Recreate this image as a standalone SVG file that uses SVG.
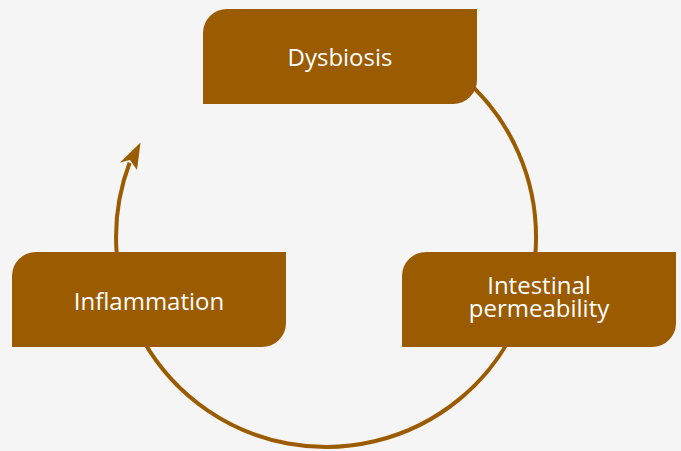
<svg xmlns="http://www.w3.org/2000/svg" width="681" height="451" viewBox="0 0 681 451">
<style>
.box{fill:#9b5b00}
.lbl{font-family:"Open Sans","Noto Sans","Liberation Sans",sans-serif;font-size:24px;fill:#ffffff;text-anchor:middle}
.conn{fill:none;stroke:#9b5b00;stroke-width:4}
.head{fill:#9b5b00}
</style>
<rect x="0" y="0" width="681" height="451" fill="#f5f5f5"/>
<g id="connectors">
<path class="conn" d="M 289.5 30.2 A 210 210 0 1 1 129.6 162.8"/>
<polygon class="head" points="140.5,142.5 120,162.5 130,160 137,170"/>
</g>
<g id="dysbiosis">
<path class="box" d="M 227 9 H 477 V 80 A 24 24 0 0 1 453 104 H 203 V 33 A 24 24 0 0 1 227 9 Z"/>
<text class="lbl" x="340" y="66">Dysbiosis</text>
</g>
<g id="intestinal-permeability">
<path class="box" d="M 426 252 H 676 V 323 A 24 24 0 0 1 652 347 H 402 V 276 A 24 24 0 0 1 426 252 Z"/>
<text class="lbl" x="539" y="294">Intestinal<tspan x="539" dy="23">permeability</tspan></text>
</g>
<g id="inflammation">
<path class="box" d="M 36 252 H 286 V 323 A 24 24 0 0 1 262 347 H 12 V 276 A 24 24 0 0 1 36 252 Z"/>
<text class="lbl" x="149" y="310">Inflammation</text>
</g>
</svg>
